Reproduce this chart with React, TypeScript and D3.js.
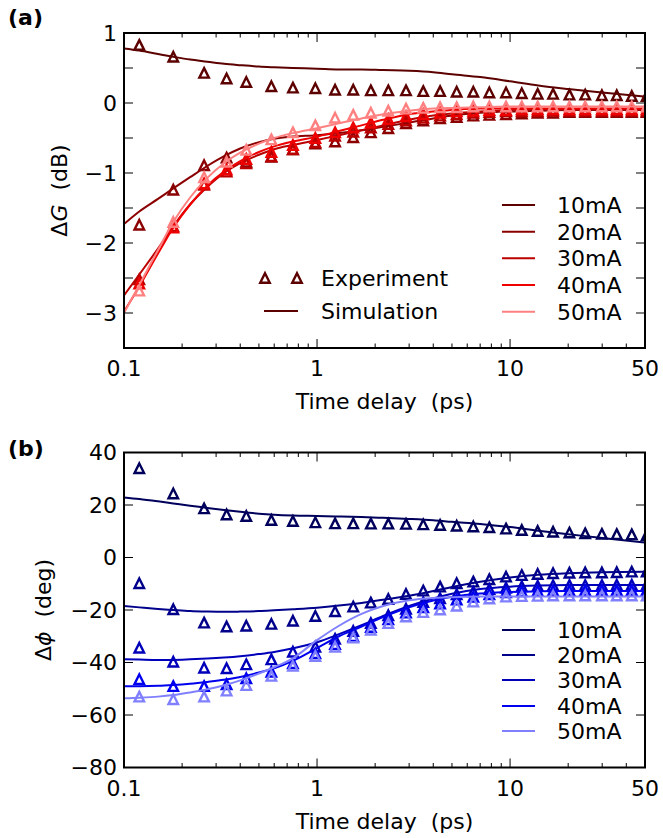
import React from 'react';
import * as d3 from 'd3';

// ---------- data ----------
const X_EXP = [0.12, 0.18, 0.26, 0.34, 0.43, 0.58, 0.75, 0.98, 1.24, 1.54, 1.9, 2.34, 2.89, 3.55, 4.34, 5.29, 6.45, 7.81, 9.53, 11.5, 13.9, 16.7, 20.3, 24.5, 29.9, 35.7, 42.7, 51];
const X_SIM = [0.1, 0.12, 0.15, 0.18, 0.22, 0.27, 0.33, 0.4, 0.5, 0.6, 0.75, 1, 1.3, 1.7, 2.2, 3, 4, 5, 7, 10, 14, 20, 30, 50];

const SERIES_LABELS = ['10mA', '20mA', '30mA', '40mA', '50mA'];
const RED_COLORS = ['#5c0000', '#8b0000', '#bb0000', '#ee0000', '#ff8080'];
const BLUE_COLORS = ['#00005c', '#00008b', '#0000bb', '#0000ee', '#8080ff'];

// panel (a): gain change (dB)
const G_EXP_10 = [0.83, 0.66, 0.43, 0.35, 0.30, 0.24, 0.22, 0.21, 0.19, 0.19, 0.18, 0.18, 0.18, 0.17, 0.17, 0.16, 0.16, 0.15, 0.15, 0.14, 0.13, 0.13, 0.12, 0.12, 0.11, 0.11, 0.10, 0.10];
const G_EXP_20 = [-1.74, -1.24, -0.89, -0.78, -0.84, -0.77, -0.66, -0.58, -0.55, -0.49, -0.42, -0.36, -0.29, -0.25, -0.22, -0.20, -0.18, -0.17, -0.16, -0.15, -0.14, -0.14, -0.13, -0.13, -0.13, -0.13, -0.13, -0.13];
const G_EXP_30 = [-2.52, -1.76, -1.17, -0.98, -0.86, -0.76, -0.66, -0.56, -0.47, -0.41, -0.35, -0.30, -0.25, -0.21, -0.18, -0.16, -0.14, -0.13, -0.12, -0.12, -0.12, -0.11, -0.11, -0.11, -0.11, -0.11, -0.11, -0.11];
const G_EXP_40 = [-2.58, -1.78, -1.15, -0.95, -0.80, -0.70, -0.60, -0.50, -0.42, -0.35, -0.28, -0.23, -0.19, -0.16, -0.14, -0.12, -0.11, -0.10, -0.10, -0.09, -0.09, -0.09, -0.09, -0.09, -0.09, -0.09, -0.09, -0.09];
const G_EXP_50 = [-2.68, -1.70, -1.06, -0.84, -0.67, -0.52, -0.42, -0.32, -0.21, -0.17, -0.14, -0.11, -0.08, -0.07, -0.06, -0.06, -0.05, -0.05, -0.05, -0.05, -0.05, -0.05, -0.05, -0.05, -0.05, -0.05, -0.05, -0.05];

const G_SIM_10 = [0.78, 0.75, 0.70, 0.66, 0.62, 0.59, 0.56, 0.54, 0.52, 0.51, 0.50, 0.49, 0.48, 0.48, 0.47, 0.46, 0.44, 0.41, 0.37, 0.31, 0.25, 0.20, 0.15, 0.09];
const G_SIM_20 = [-1.73, -1.55, -1.37, -1.22, -1.06, -0.90, -0.76, -0.65, -0.56, -0.51, -0.48, -0.46, -0.43, -0.39, -0.34, -0.28, -0.22, -0.18, -0.14, -0.12, -0.11, -0.10, -0.10, -0.10];
const G_SIM_30 = [-2.75, -2.45, -2.08, -1.76, -1.45, -1.20, -1.00, -0.86, -0.74, -0.66, -0.60, -0.53, -0.46, -0.39, -0.32, -0.24, -0.18, -0.15, -0.12, -0.10, -0.09, -0.09, -0.09, -0.09];
const G_SIM_40 = [-2.98, -2.62, -2.15, -1.78, -1.45, -1.18, -0.98, -0.83, -0.70, -0.62, -0.55, -0.48, -0.40, -0.32, -0.24, -0.16, -0.12, -0.10, -0.08, -0.08, -0.08, -0.08, -0.08, -0.08];
const G_SIM_50 = [-3.00, -2.60, -2.10, -1.70, -1.35, -1.07, -0.86, -0.71, -0.58, -0.50, -0.43, -0.36, -0.29, -0.22, -0.16, -0.11, -0.08, -0.07, -0.06, -0.05, -0.05, -0.05, -0.05, -0.05];

// panel (b): phase change (deg)
const P_EXP_10 = [34.0, 24.4, 18.7, 16.4, 15.8, 14.3, 13.9, 13.4, 13.0, 13.0, 12.9, 12.9, 12.8, 12.6, 12.4, 12.1, 11.8, 11.5, 11.0, 10.5, 10.1, 9.8, 9.5, 9.2, 9.0, 8.9, 8.8, 8.5];
const P_EXP_20 = [-9.8, -19.7, -24.8, -26.3, -26.0, -25.3, -24.1, -22.3, -20.5, -18.7, -17.2, -15.8, -13.9, -12.6, -11.1, -9.8, -9.2, -8.3, -7.3, -6.7, -6.3, -6.0, -5.8, -5.7, -5.7, -5.6, -5.4, -5.4];
const P_EXP_30 = [-34.4, -39.7, -42.0, -42.2, -40.7, -38.8, -35.9, -34.0, -31.0, -28.0, -25.0, -22.0, -19.5, -17.0, -15.5, -14.0, -13.0, -12.0, -11.5, -11.0, -10.8, -10.6, -10.5, -10.5, -10.5, -10.4, -10.4, -10.4];
const P_EXP_40 = [-46.4, -49.0, -49.0, -48.3, -46.0, -43.5, -40.3, -36.5, -33.0, -30.0, -26.5, -23.5, -21.0, -19.0, -17.5, -16.0, -15.0, -14.0, -13.3, -12.9, -12.7, -12.6, -12.5, -12.5, -12.4, -12.4, -12.4, -12.4];
const P_EXP_50 = [-53.0, -54.0, -53.0, -50.7, -48.6, -45.1, -41.3, -37.5, -34.0, -30.5, -27.5, -25.0, -22.5, -20.8, -19.8, -18.4, -16.8, -15.6, -14.9, -14.7, -14.6, -14.5, -14.5, -14.5, -14.5, -14.5, -14.5, -14.5];

const P_SIM_10 = [22.9, 22.3, 21.4, 20.6, 19.7, 18.9, 18.1, 17.4, 16.7, 16.3, 16.0, 15.8, 15.6, 15.4, 15.1, 14.7, 14.2, 13.6, 12.8, 11.6, 10.2, 8.9, 7.4, 5.7];
const P_SIM_20 = [-18.5, -19.0, -19.6, -20.0, -20.4, -20.6, -20.7, -20.6, -20.4, -20.1, -19.7, -19.1, -18.3, -17.3, -16.1, -14.6, -12.8, -11.2, -9.2, -7.6, -6.6, -6.0, -5.6, -5.4];
const P_SIM_30 = [-38.8, -38.9, -39.0, -39.0, -38.8, -38.5, -38.1, -37.6, -36.8, -36.0, -34.6, -32.3, -29.2, -25.8, -22.3, -18.5, -15.6, -13.8, -12.0, -11.1, -10.7, -10.5, -10.5, -10.5];
const P_SIM_40 = [-49.0, -49.0, -48.9, -48.6, -48.1, -47.4, -46.6, -45.5, -43.8, -42.2, -39.4, -34.5, -30.0, -26.3, -22.7, -19.0, -16.4, -15.0, -13.7, -13.1, -12.9, -12.8, -12.8, -12.8];
const P_SIM_50 = [-53.6, -53.4, -53.0, -52.4, -51.4, -50.2, -48.7, -46.8, -44.2, -41.8, -38.4, -31.5, -26.0, -21.5, -18.5, -16.3, -15.4, -15.1, -14.9, -14.9, -14.9, -14.9, -14.9, -14.9];

const X_DOMAIN = [0.1, 50];
const X_MAJOR = [0.1, 1, 10];
const X_LABELS = [0.1, 1, 10, 50];
const G_DOMAIN = [-3.5, 1];
const G_TICKS = [1, 0.5, 0, -0.5, -1, -1.5, -2, -2.5, -3];
const G_LABELS = [1, 0, -1, -2, -3];
const P_DOMAIN = [-80, 40];
const P_TICKS = [40, 20, 0, -20, -40, -60, -80];
const P_LABELS = [40, 20, 0, -20, -40, -60, -80];

const FONT = 'DejaVu Sans, Bitstream Vera Sans, sans-serif';
const FS = 22;

const fmt = (v: number) => String(v).replace('-', '\u2212');

function triPath(s: number) {
  return `M0,${-s / 2}L${s / 2},${s / 2}L${-s / 2},${s / 2}Z`;
}

type PanelProps = {
  id: string;
  left: number; top: number; right: number; bottom: number;
  yDomain: number[]; yTicks: number[]; yLabels: number[];
  exp: number[][]; sim: number[][]; colors: string[];
  legendRows: number[];
  yLabel: React.ReactNode; yLabelX: number;
  showExpSimLegend: boolean;
};

function Panel(p: PanelProps) {
  const x = d3.scaleLog().domain(X_DOMAIN).range([p.left, p.right]);
  const y = d3.scaleLinear().domain(p.yDomain).range([p.bottom, p.top]);
  const minor: number[] = [];
  X_MAJOR.forEach((d) => {
    for (let k = 2; k <= 9; k++) {
      const v = k * d;
      if (v < X_DOMAIN[1] - 1e-9) minor.push(v);
    }
  });
  const line = d3
    .line<number>()
    .x((_, i) => x(X_SIM[i]))
    .y((d) => y(d))
    .curve(d3.curveMonotoneX);
  const tri = triPath(9.5);
  const triW = 2.4;
  const majLen = 9;
  const minLen = 4.5;
  const clipId = `clip-${p.id}`;
  const midY = (p.top + p.bottom) / 2;
  return (
    <g>
      <defs>
        <clipPath id={clipId}>
          <rect x={p.left} y={p.top} width={p.right - p.left} height={p.bottom - p.top} />
        </clipPath>
      </defs>
      <g clipPath={`url(#${clipId})`}>
        {p.exp.map((series, si) => (
          <g key={si}>
            {series.map((v, i) => (
              <path
                key={i}
                d={tri}
                transform={`translate(${x(X_EXP[i])},${y(v)})`}
                fill="none"
                stroke={p.colors[si]}
                strokeWidth={triW}
              />
            ))}
            <path d={line(p.sim[si]) || ''} fill="none" stroke={p.colors[si]} strokeWidth={2} />
          </g>
        ))}
      </g>
      {/* x ticks */}
      {X_MAJOR.map((v) => (
        <g key={'M' + v}>
          <line x1={x(v)} x2={x(v)} y1={p.bottom} y2={p.bottom - majLen} stroke="#000" strokeWidth={1} />
          <line x1={x(v)} x2={x(v)} y1={p.top} y2={p.top + majLen} stroke="#000" strokeWidth={1} />
        </g>
      ))}
      {minor.map((v) => (
        <g key={'m' + v}>
          <line x1={x(v)} x2={x(v)} y1={p.bottom} y2={p.bottom - minLen} stroke="#000" strokeWidth={1} />
          <line x1={x(v)} x2={x(v)} y1={p.top} y2={p.top + minLen} stroke="#000" strokeWidth={1} />
        </g>
      ))}
      {X_LABELS.map((v) => (
        <text key={'xl' + v} x={x(v)} y={p.bottom + 28} textAnchor="middle" fontSize={FS} fontFamily={FONT}>
          {fmt(v)}
        </text>
      ))}
      {/* y ticks */}
      {p.yTicks.map((v) => (
        <g key={'y' + v}>
          <line x1={p.left} x2={p.left + majLen} y1={y(v)} y2={y(v)} stroke="#000" strokeWidth={1} />
          <line x1={p.right} x2={p.right - majLen} y1={y(v)} y2={y(v)} stroke="#000" strokeWidth={1} />
        </g>
      ))}
      {p.yLabels.map((v) => (
        <text key={'yl' + v} x={p.left - 7} y={y(v)} dy="0.36em" textAnchor="end" fontSize={FS} fontFamily={FONT}>
          {fmt(v)}
        </text>
      ))}
      <rect x={p.left} y={p.top} width={p.right - p.left} height={p.bottom - p.top} fill="none" stroke="#000" strokeWidth={2} />
      {/* axis labels */}
      <text x={(p.left + p.right) / 2} y={p.bottom + 61} textAnchor="middle" fontSize={FS} fontFamily={FONT}>
        Time delay {'\u00a0'}(ps)
      </text>
      <text
        transform={`translate(${p.yLabelX},${midY}) rotate(-90)`}
        textAnchor="middle"
        fontSize={FS}
        fontFamily={FONT}
      >
        {p.yLabel}
      </text>
      {/* current legend */}
      {SERIES_LABELS.map((lab, i) => (
        <g key={'lg' + i}>
          <line x1={502} x2={535} y1={p.legendRows[i]} y2={p.legendRows[i]} stroke={p.colors[i]} strokeWidth={2} />
          <text x={557} y={p.legendRows[i]} dy="0.36em" fontSize={FS} fontFamily={FONT}>
            {lab}
          </text>
        </g>
      ))}
      {p.showExpSimLegend && (
        <g>
          {[265, 297].map((cx) => (
            <path key={cx} d={tri} transform={`translate(${cx},278)`} fill="none" stroke={p.colors[0]} strokeWidth={triW} />
          ))}
          <text x={321} y={278} dy="0.36em" fontSize={FS} fontFamily={FONT}>
            Experiment
          </text>
          <line x1={264} x2={298} y1={311} y2={311} stroke={p.colors[0]} strokeWidth={2} />
          <text x={321} y={311} dy="0.36em" fontSize={FS} fontFamily={FONT}>
            Simulation
          </text>
        </g>
      )}
    </g>
  );
}

export default function App() {
  return (
    <svg
      width={663}
      height={838}
      viewBox="0 0 663 838"
      style={{ position: 'absolute', left: 0, top: 0, background: '#fff' }}
    >
      <rect x={0} y={0} width={663} height={838} fill="#fff" />
      <text x={8} y={17} dy="0.36em" fontSize={FS} fontWeight="bold" fontFamily={FONT}>
        (a)
      </text>
      <text x={8} y={448} dy="0.36em" fontSize={FS} fontWeight="bold" fontFamily={FONT}>
        (b)
      </text>
      <Panel
        id="a"
        left={124}
        top={33}
        right={645}
        bottom={348}
        yDomain={G_DOMAIN}
        yTicks={G_TICKS}
        yLabels={G_LABELS}
        exp={[G_EXP_10, G_EXP_20, G_EXP_30, G_EXP_40, G_EXP_50]}
        sim={[G_SIM_10, G_SIM_20, G_SIM_30, G_SIM_40, G_SIM_50]}
        colors={RED_COLORS}
        legendRows={[205, 231.7, 258.3, 285, 311.7]}
        yLabelX={67}
        showExpSimLegend={true}
        yLabel={
          <>
            <tspan>Δ</tspan>
            <tspan fontStyle="italic">G</tspan>
            <tspan>{'\u00a0\u00a0'}(dB)</tspan>
          </>
        }
      />
      <Panel
        id="b"
        left={124}
        top={452.5}
        right={645}
        bottom={767.5}
        yDomain={P_DOMAIN}
        yTicks={P_TICKS}
        yLabels={P_LABELS}
        exp={[P_EXP_10, P_EXP_20, P_EXP_30, P_EXP_40, P_EXP_50]}
        sim={[P_SIM_10, P_SIM_20, P_SIM_30, P_SIM_40, P_SIM_50]}
        colors={BLUE_COLORS}
        legendRows={[630, 655, 680, 706, 731]}
        yLabelX={51}
        showExpSimLegend={false}
        yLabel={
          <>
            <tspan>Δ</tspan>
            <tspan fontStyle="italic">ϕ</tspan>
            <tspan>{'\u00a0\u00a0'}(deg)</tspan>
          </>
        }
      />
    </svg>
  );
}
